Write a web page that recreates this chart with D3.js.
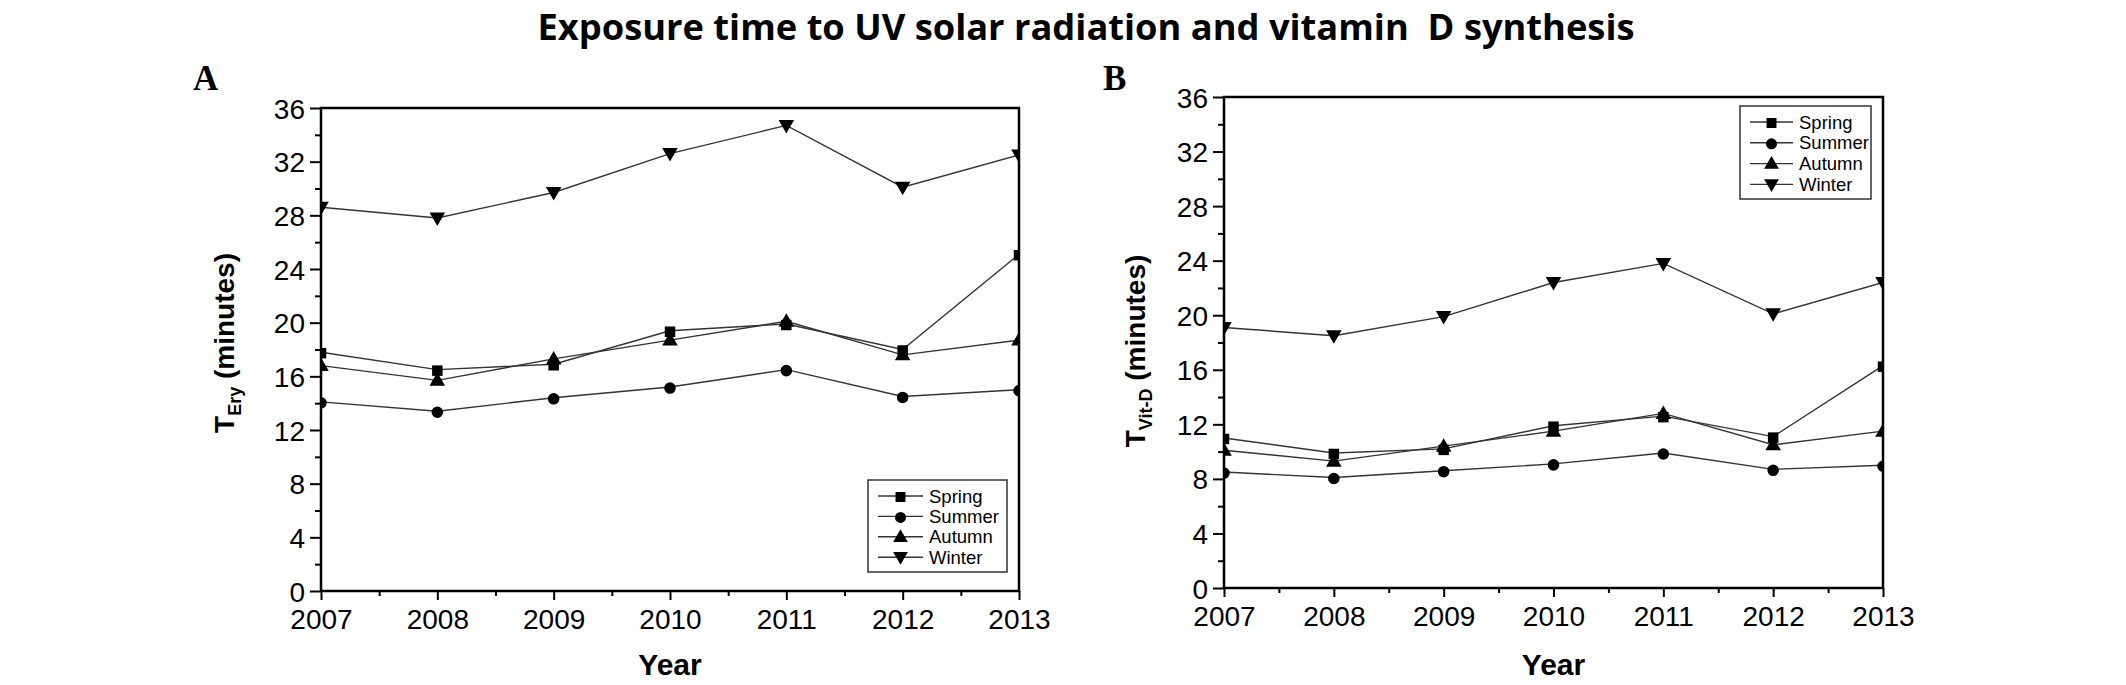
<!DOCTYPE html>
<html>
<head>
<meta charset="utf-8">
<script src="https://cdn.jsdelivr.net/npm/d3@7/dist/d3.min.js"></script>
<style>
  html, body { margin: 0; padding: 0; background: #fff; }
  svg { display: block; }
</style>
</head>
<body>
<svg id="chart" width="2126" height="685"></svg>
<script>
// ---------- data ----------
const years = [2007, 2008, 2009, 2010, 2011, 2012, 2013];
const seasons = ["Spring", "Summer", "Autumn", "Winter"];
const yTicks = [0, 4, 8, 12, 16, 20, 24, 28, 32, 36];

// Panel A : T_Ery (minutes)
const erySpring = [17.8, 16.5, 16.9, 19.4, 19.9, 18.0, 25.1];
const erySummer = [14.1, 13.4, 14.4, 15.2, 16.5, 14.5, 15.0];
const eryAutumn = [16.8, 15.7, 17.3, 18.7, 20.1, 17.6, 18.7];
const eryWinter = [28.6, 27.8, 29.7, 32.6, 34.7, 30.1, 32.5];

// Panel B : T_Vit-D (minutes)
const vitSpring = [11.0, 9.9, 10.2, 11.9, 12.6, 11.1, 16.3];
const vitSummer = [8.5, 8.1, 8.6, 9.1, 9.9, 8.7, 9.0];
const vitAutumn = [10.1, 9.3, 10.4, 11.5, 12.8, 10.5, 11.5];
const vitWinter = [19.1, 18.5, 19.9, 22.4, 23.8, 20.1, 22.4];

const title = "Exposure time to UV solar radiation and vitamin  D synthesis";

// ---------- drawing ----------
const svg = d3.select("#chart");
const symbolOf = {
  Spring: { type: d3.symbolSquare, size: 110, rot: 0 },
  Summer: { type: d3.symbolCircle, size: 105, rot: 0 },
  Autumn: { type: d3.symbolTriangle, size: 105, rot: 0 },
  Winter: { type: d3.symbolTriangle, size: 105, rot: 180 }
};

svg.append("text")
  .attr("x", 1086).attr("y", 40)
  .attr("text-anchor", "middle")
  .attr("font-family", "'Open Sans', sans-serif")
  .attr("font-weight", "bold")
  .attr("font-size", 36)
  .attr("textLength", 1097)
  .attr("lengthAdjust", "spacingAndGlyphs")
  .style("white-space", "pre")
  .text(title);

function panel(cfg) {
  const { id, left, right, top, bottom, letter, letterX, sub, titleX, titleY, legend, series } = cfg;
  const x = d3.scaleLinear().domain([2007, 2013]).range([left, right]);
  const y = d3.scaleLinear().domain([0, 36]).range([bottom, top]);
  const g = svg.append("g");

  g.append("text").attr("x", letterX).attr("y", 90)
    .attr("font-family", "'Liberation Serif', 'Times New Roman', serif")
    .attr("font-weight", "bold").attr("font-size", 35).text(letter);

  svg.append("defs").append("clipPath").attr("id", "clip" + id)
    .append("rect").attr("x", left).attr("y", top)
    .attr("width", right - left).attr("height", bottom - top);

  const yMinor = d3.range(2, 36, 4);
  g.append("g").attr("transform", `translate(${left},0)`)
    .call(d3.axisLeft(y).tickValues(yMinor).tickSize(6).tickSizeOuter(0).tickFormat(""))
    .call(a => a.select(".domain").remove())
    .call(a => a.selectAll("line").attr("stroke", "#000").attr("stroke-width", 2));
  const xMinor = d3.range(2007.5, 2013, 1);
  g.append("g").attr("transform", `translate(0,${bottom})`)
    .call(d3.axisBottom(x).tickValues(xMinor).tickSize(5).tickSizeOuter(0).tickFormat(""))
    .call(a => a.select(".domain").remove())
    .call(a => a.selectAll("line").attr("stroke", "#000").attr("stroke-width", 2));

  const ya = g.append("g").attr("transform", `translate(${left},0)`)
    .call(d3.axisLeft(y).tickValues(yTicks).tickSize(11).tickPadding(5).tickSizeOuter(0).tickFormat(d3.format("d")));
  const xa = g.append("g").attr("transform", `translate(0,${bottom})`)
    .call(d3.axisBottom(x).tickValues(years).tickSize(9).tickPadding(8).tickSizeOuter(0).tickFormat(d3.format("d")));
  [ya, xa].forEach(a => {
    a.select(".domain").remove();
    a.selectAll("line").attr("stroke", "#000").attr("stroke-width", 2);
    a.selectAll("text").attr("font-family", "'Liberation Sans', Arial, sans-serif")
      .attr("font-size", 28).attr("fill", "#000");
  });
  ya.selectAll("text").attr("dy", "0.36em");
  xa.selectAll("text").attr("dy", "0.75em");

  const plot = g.append("g").attr("clip-path", `url(#clip${id})`);
  const line = d3.line().x((d, i) => x(years[i])).y(d => y(d));
  series.forEach(s => {
    plot.append("path").datum(s.values).attr("d", line)
      .attr("fill", "none").attr("stroke", "#333").attr("stroke-width", 1.4);
  });
  series.forEach(s => {
    const sym = symbolOf[s.name];
    plot.selectAll(null).data(s.values).enter().append("path")
      .attr("d", d3.symbol().type(sym.type).size(sym.size))
      .attr("transform", (d, i) => `translate(${x(years[i])},${y(d) + (sym.rot ? -1 : 1)}) rotate(${sym.rot})`)
      .attr("fill", "#000");
  });

  g.append("rect").attr("x", left).attr("y", top)
    .attr("width", right - left).attr("height", bottom - top)
    .attr("fill", "none").attr("stroke", "#000").attr("stroke-width", 2.5);

  const lg = g.append("g");
  lg.append("rect").attr("x", legend.x).attr("y", legend.y)
    .attr("width", legend.w).attr("height", legend.h)
    .attr("fill", "#fff").attr("stroke", "#333").attr("stroke-width", 1.5);
  series.forEach((s, i) => {
    const cy = legend.y + legend.first + i * legend.step;
    const sym = symbolOf[s.name];
    lg.append("line").attr("x1", legend.x + 10).attr("x2", legend.x + 10 + legend.lineW)
      .attr("y1", cy).attr("y2", cy).attr("stroke", "#333").attr("stroke-width", 1.4);
    lg.append("path").attr("d", d3.symbol().type(sym.type).size(sym.size * 0.9))
      .attr("transform", `translate(${legend.x + 10 + legend.lineW / 2},${cy + (sym.rot ? -1 : 1)}) rotate(${sym.rot})`)
      .attr("fill", "#000");
    lg.append("text").attr("x", legend.x + 16 + legend.lineW).attr("y", cy).attr("dy", "0.36em")
      .attr("font-family", "'Liberation Sans', Arial, sans-serif").attr("font-size", 18.5)
      .attr("fill", "#000").text(s.name);
  });

  const yt = g.append("text")
    .attr("transform", `translate(${titleX},${titleY}) rotate(-90)`)
    .attr("text-anchor", "middle")
    .attr("font-family", "'Liberation Sans', Arial, sans-serif")
    .attr("font-weight", "bold").attr("font-size", 28).attr("fill", "#000");
  yt.append("tspan").text("T");
  yt.append("tspan").attr("font-size", 18).attr("dy", 7).text(sub);
  yt.append("tspan").attr("dy", -7).text(" (minutes)");

  g.append("text").attr("x", (left + right) / 2).attr("y", 675)
    .attr("text-anchor", "middle")
    .attr("font-family", "'Liberation Sans', Arial, sans-serif")
    .attr("font-weight", "bold").attr("font-size", 30).attr("fill", "#000").text("Year");
}

panel({
  id: "A", left: 321, right: 1019, top: 108, bottom: 591,
  letter: "A", letterX: 193, sub: "Ery", titleX: 234, titleY: 343,
  legend: { x: 868, y: 480, w: 139, h: 92, first: 16, step: 20.4, lineW: 45 },
  series: [
    { name: "Spring", values: erySpring },
    { name: "Summer", values: erySummer },
    { name: "Autumn", values: eryAutumn },
    { name: "Winter", values: eryWinter }
  ]
});

panel({
  id: "B", left: 1224, right: 1883, top: 97, bottom: 588,
  letter: "B", letterX: 1103, sub: "Vit-D", titleX: 1145, titleY: 351,
  legend: { x: 1740, y: 106, w: 131, h: 93, first: 16, step: 20.8, lineW: 43 },
  series: [
    { name: "Spring", values: vitSpring },
    { name: "Summer", values: vitSummer },
    { name: "Autumn", values: vitAutumn },
    { name: "Winter", values: vitWinter }
  ]
});
</script>
</body>
</html>
